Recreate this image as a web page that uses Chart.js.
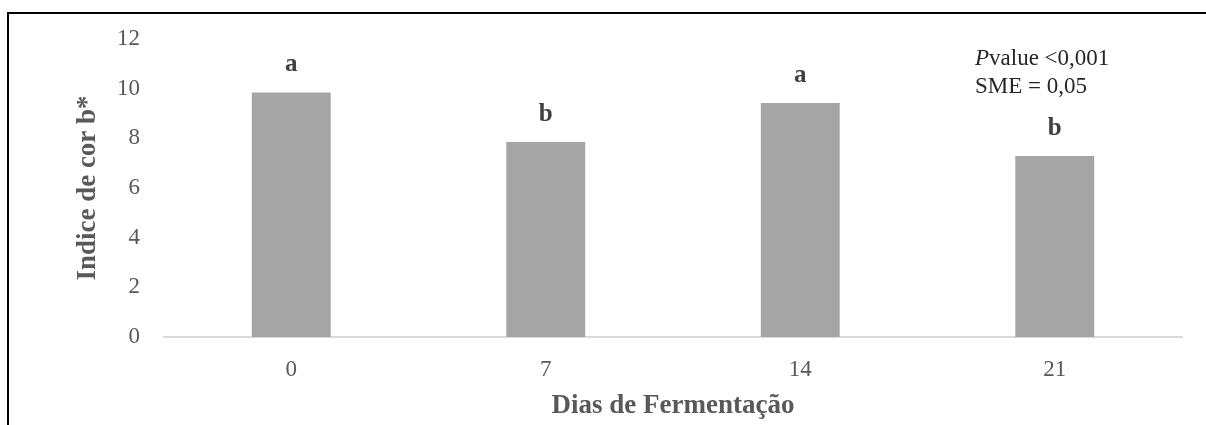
<!DOCTYPE html>
<html>
<head>
<meta charset="utf-8">
<script src="https://cdn.jsdelivr.net/npm/chart.js@4"></script>
<style>
  html, body { margin: 0; padding: 0; background: #fff; }
  #wrap { position: relative; width: 1206px; height: 425px; }
</style>
</head>
<body>
<div id="wrap"><canvas id="corChart" width="1206" height="425"></canvas></div>
<script>
// dados
const dias = ["0", "7", "14", "21"];
const indiceB = [9.85, 7.85, 9.42, 7.29];
const letras = ["a", "b", "a", "b"];
const yTicks = [0, 2, 4, 6, 8, 10, 12];

const serif = "'Liberation Serif', 'Times New Roman', serif";

// moldura preta (topo e esquerda)
const framePlugin = {
  id: "frame",
  beforeDraw(chart) {
    const ctx = chart.ctx;
    ctx.save();
    ctx.fillStyle = "#fff";
    ctx.fillRect(0, 0, chart.width, chart.height);
    ctx.strokeStyle = "#000";
    ctx.lineWidth = 2;
    ctx.beginPath();
    ctx.moveTo(8, chart.height);
    ctx.lineTo(8, 13);
    ctx.lineTo(chart.width, 13);
    ctx.stroke();
    ctx.restore();
  },
};

// letras de significância e anotação
const labelsPlugin = {
  id: "letras",
  afterDatasetsDraw(chart) {
    const ctx = chart.ctx;
    const meta = chart.getDatasetMeta(0);
    ctx.save();
    ctx.font = "bold 25px " + serif;
    ctx.fillStyle = "#404040";
    ctx.textAlign = "center";
    ctx.textBaseline = "bottom";
    meta.data.forEach((bar, i) => {
      ctx.fillText(letras[i], bar.x, bar.y - 15);
    });

    ctx.textAlign = "left";
    ctx.textBaseline = "alphabetic";
    ctx.fillStyle = "#262626";
    ctx.font = "italic 23px " + serif;
    ctx.fillText("P", 975, 65);
    const pw = ctx.measureText("P").width;
    ctx.font = "23px " + serif;
    ctx.fillText("value <0,001", 975 + pw, 65);
    ctx.fillText("SME = 0,05", 975, 93);
    ctx.restore();
  },
};

new Chart(document.getElementById("corChart").getContext("2d"), {
  type: "bar",
  data: {
    labels: dias,
    datasets: [
      {
        label: "Indice de cor b*",
        data: indiceB,
        backgroundColor: "#a5a5a5",
        borderWidth: 0,
        barPercentage: 0.31,
        categoryPercentage: 1,
      },
    ],
  },
  options: {
    responsive: false,
    animation: false,
    layout: {
      padding: { left: 60, right: 24, top: 39, bottom: 0 },
    },
    plugins: {
      legend: { display: false },
      tooltip: { enabled: false },
    },
    scales: {
      x: {
        grid: { display: false, drawTicks: false },
        border: { display: true, color: "#d9d9d9", width: 2 },
        ticks: {
          color: "#595959",
          font: { family: serif, size: 23 },
          padding: 19,
        },
        title: {
          display: true,
          text: "Dias de Fermentação",
          color: "#595959",
          font: { family: serif, size: 27, weight: "bold" },
          padding: { top: 0, bottom: 3 },
        },
        afterFit(scale) {
          scale.height = 88;
        },
      },
      y: {
        min: 0,
        max: 12,
        afterBuildTicks(scale) {
          scale.ticks = yTicks.map((v) => ({ value: v }));
        },
        grid: { display: false, drawTicks: false },
        border: { display: false },
        ticks: {
          color: "#595959",
          font: { family: serif, size: 23 },
          padding: 24,
        },
        title: {
          display: true,
          text: "Indice de cor b*",
          color: "#595959",
          font: { family: serif, size: 27, weight: "bold" },
          padding: { top: 12, bottom: 0 },
        },
        afterFit(scale) {
          scale.width = 104;
        },
      },
    },
  },
  plugins: [framePlugin, labelsPlugin],
});
</script>
</body>
</html>
